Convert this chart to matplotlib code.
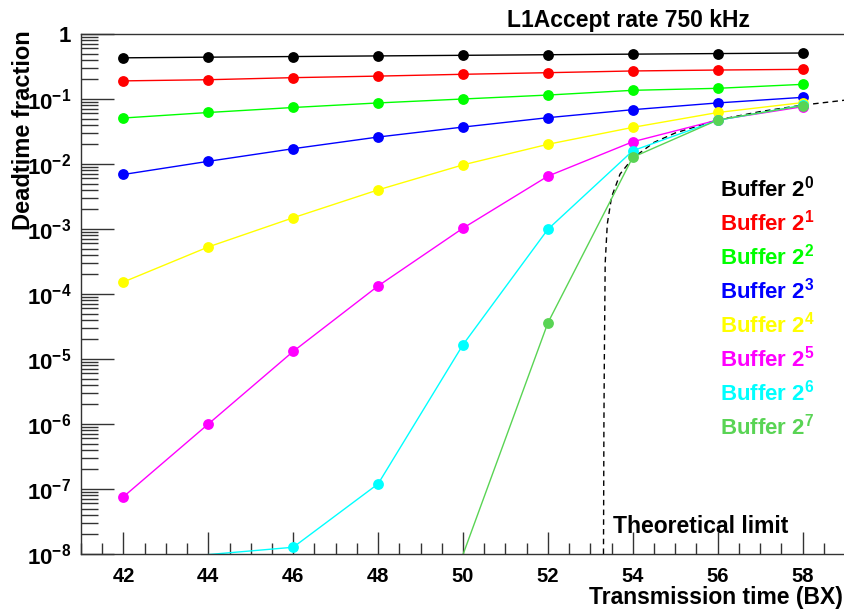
import numpy as np
import matplotlib
matplotlib.use('Agg')
import matplotlib.pyplot as plt
from matplotlib import ticker

plt.rcParams['font.family'] = 'Liberation Sans'
plt.rcParams['font.weight'] = 'bold'
plt.rcParams['mathtext.fontset'] = 'custom'
plt.rcParams['mathtext.rm'] = 'Liberation Sans:bold'
plt.rcParams['mathtext.default'] = 'rm'

# transmission time (BX)
bx = [42, 44, 46, 48, 50, 52, 54, 56, 58]

# deadtime fraction per buffer depth 2^n
buf0 = [0.43, 0.44, 0.45, 0.46, 0.47, 0.48, 0.49, 0.50, 0.51]
buf1 = [0.19, 0.198, 0.213, 0.225, 0.24, 0.254, 0.27, 0.279, 0.286]
buf2 = [0.051, 0.062, 0.074, 0.087, 0.10, 0.115, 0.136, 0.146, 0.168]
buf3 = [0.0069, 0.011, 0.0172, 0.026, 0.037, 0.0516, 0.0685, 0.087, 0.106]
buf4 = [1.53e-4, 5.3e-4, 1.49e-3, 4.0e-3, 9.7e-3, 0.0201, 0.0366, 0.062, 0.088]
buf5 = [7.6e-8, 1.0e-6, 1.31e-5, 1.33e-4, 1.03e-3, 6.5e-3, 0.022, 0.0475, 0.076]
bx6 = [44, 46, 48, 50, 52, 54, 56, 58]
buf6 = [9.8e-9, 1.27e-8, 1.2e-7, 1.66e-5, 9.9e-4, 0.016, 0.047, 0.08]
bx7 = [50, 52, 54, 56, 58]
buf7 = [9.8e-9, 3.6e-5, 0.0127, 0.0475, 0.079]

# theoretical limit (dashed)
lim_x = [53.31, 53.32, 53.33, 53.35, 53.4, 53.5, 53.7, 54.0, 54.5, 55.0, 56.0, 57.0, 58.0, 59.0]
lim_y = [1e-8, 1e-6, 1e-5, 3e-4, 1.2e-3, 3.1e-3, 7.0e-3, 0.0123, 0.0215, 0.030, 0.0476, 0.064, 0.0805, 0.096]

series = [(bx, buf0), (bx, buf1), (bx, buf2), (bx, buf3),
          (bx, buf4), (bx, buf5), (bx6, buf6), (bx7, buf7)]
colors = ['black', '#ff0000', '#00ff00', '#0000ff', '#ffff00', '#ff00ff', '#00ffff', '#59d454']

fig = plt.figure(figsize=(8.45, 6.12), dpi=100)
ax = fig.add_axes([81/845, 1-554/612, 1-81/845, (554-34)/612])

ax.plot(lim_x, lim_y, color='black', lw=1, ls=(0, (4, 3)), zorder=1)

for (x, y), c in zip(series, colors):
    x = np.array(x)
    y = np.array(y)
    ax.plot(x, y, color=c, lw=1, zorder=2)
    vis = y >= 1e-8
    ax.plot(x[vis], y[vis], 'o', color=c, ms=7.8, mew=0, zorder=3)

ax.set_yscale('log')
ax.set_xlim(41, 59)
ax.set_ylim(1e-8, 1)

ax.xaxis.set_major_locator(ticker.MultipleLocator(2))
ax.xaxis.set_minor_locator(ticker.MultipleLocator(0.5))
ax.yaxis.set_major_locator(ticker.FixedLocator([10.0**e for e in range(-8, 1)]))
ax.yaxis.set_minor_locator(ticker.LogLocator(base=10, subs=np.arange(2, 10), numticks=100))
ax.yaxis.set_minor_formatter(ticker.NullFormatter())


def yfmt(v, pos):
    e = int(round(np.log10(v)))
    if e == 0:
        return '1'
    return r'$\mathdefault{10^{%d}}$' % e


ax.yaxis.set_major_formatter(ticker.FuncFormatter(yfmt))

ax.tick_params(axis='x', which='major', direction='in', length=16, width=1, labelsize=14.5, pad=9)
ax.tick_params(axis='x', which='minor', direction='in', length=8, width=1)
ax.tick_params(axis='y', which='major', direction='in', length=24, width=1, labelsize=16, pad=7)
ax.tick_params(axis='y', which='minor', direction='in', length=12, width=1)
ax.tick_params(top=False, right=False, which='both', colors='#333333', labelcolor='black')
ax.spines['right'].set_visible(False)
for s in ['left', 'bottom', 'top']:
    ax.spines[s].set_linewidth(1)
    ax.spines[s].set_color('#333333')

fig.text(507/845, 1-27/612, 'L1Accept rate 750 kHz', fontsize=16.5, ha='left', va='baseline')
fig.text(843/845, 1-604/612, 'Transmission time (BX)', fontsize=16.5, ha='right', va='baseline')
fig.text(24/845, 1-30/612, 'Deadtime fraction', fontsize=17, rotation=90, ha='center', va='top')
fig.text(613/845, 1-533/612, 'Theoretical limit', fontsize=16.5, ha='left', va='baseline')

for i, c in enumerate(colors):
    fig.text(720/845, 1-(197+33.9*i)/612, r'Buffer 2$^{%d}$' % i, color=c,
             fontsize=16, ha='left', va='baseline')

fig.savefig('out.png', dpi=100)
